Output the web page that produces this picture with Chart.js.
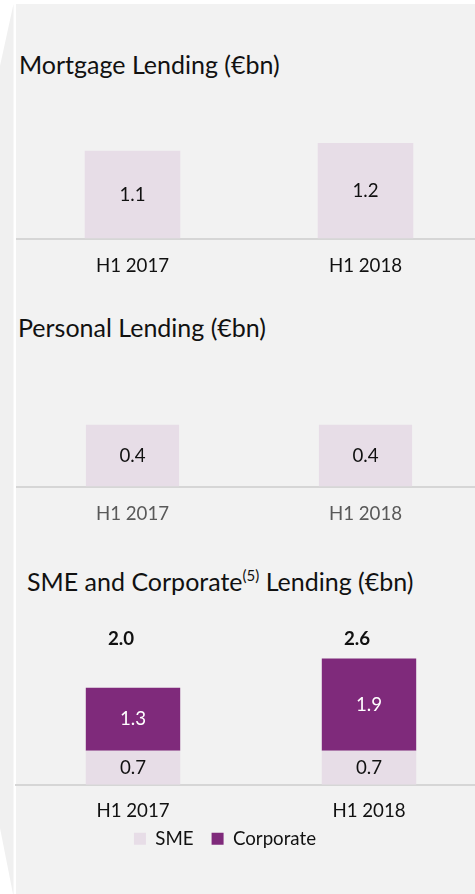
<!DOCTYPE html>
<html>
<head>
<meta charset="utf-8">
<script src="https://cdn.jsdelivr.net/npm/chart.js@4.4.1/dist/chart.umd.min.js"></script>
<style>
html,body{margin:0;padding:0;width:475px;height:894px;overflow:hidden;background:#ffffff;font-family:Lato,sans-serif;}
#wedge{position:absolute;left:0;top:0;width:14px;height:894px;background:#f0f0f0;
  clip-path:polygon(13.5px 4px,13.5px 894px,13px 894px,0px 828px,0px 66px);}
#panel{position:absolute;left:16px;top:4px;width:459px;height:890px;background:#f2f2f2;}
.title{position:absolute;font-size:25px;line-height:1.2;color:#111;white-space:nowrap;}
.title .sup{font-size:15px;position:relative;top:-10px;line-height:0;}
.cv{position:absolute;}
</style>
</head>
<body>
<div id="wedge"></div>
<div id="panel"></div>
<div class="title" id="t1" style="left:19px;top:49px;">Mortgage Lending (€bn)</div>
<div class="title" id="t2" style="left:18px;top:312px;">Personal Lending (€bn)</div>
<div class="title" id="t3" style="left:27px;top:566px;">SME and Corporate<span class="sup">(5)</span> Lending (€bn)</div>
<canvas class="cv" id="c1" width="466" height="182" style="left:16px;top:111px;"></canvas>
<canvas class="cv" id="c2" width="466" height="147" style="left:16px;top:394px;"></canvas>
<canvas class="cv" id="c3" width="472" height="274" style="left:15px;top:610px;"></canvas>
<script>
// ---- data ----
const categories = ['H1 2017', 'H1 2018'];
const mortgageValues = [1.1, 1.2];
const personalValues = [0.4, 0.4];
const smeValues = [0.7, 0.7];
const corporateValues = [1.3, 1.9];
const smeCorpTotals = [2.0, 2.6];
const seriesNames = ['SME', 'Corporate'];

// ---- styles ----
const SME_COLOR = '#e7dde7';
const CORP_COLOR = '#7f2a7b';
const AXIS_COLOR = '#d6d6d6';
const TEXT_COLOR = '#111111';
const GREY_TEXT = '#595959';
const LABEL_SIZE = 18.7;

const barLabels = {
  id: 'barLabels',
  afterDatasetsDraw(chart, args, opts) {
    const ctx = chart.ctx;
    ctx.save();
    ctx.textAlign = 'center';
    ctx.textBaseline = 'middle';
    ctx.font = LABEL_SIZE + 'px Lato';
    chart.data.datasets.forEach((ds, di) => {
      const meta = chart.getDatasetMeta(di);
      if (!chart.isDatasetVisible(di)) return;
      meta.data.forEach((bar, i) => {
        ctx.fillStyle = ds.labelColor || TEXT_COLOR;
        ctx.fillText(ds.data[i].toFixed(1), bar.x, (bar.y + bar.base) / 2);
      });
    });
    if (opts && opts.totals) {
      const meta = chart.getDatasetMeta(0);
      const yTop = chart.scales.y.getPixelForValue(Math.max(...opts.totals)) - 20;
      ctx.font = 'bold ' + LABEL_SIZE + 'px Lato';
      ctx.fillStyle = TEXT_COLOR;
      opts.totals.forEach((t, i) => {
        ctx.fillText(t.toFixed(1), meta.data[i].x + (opts.dx || 0), yTop);
      });
    }
    ctx.restore();
  }
};

const shiftLegend = {
  id: 'shiftLegend',
  afterLayout(chart, args, opts) {
    const l = chart.legend;
    if (!l) return;
    l.left += opts.dx || 0; l.right += opts.dx || 0;
    l.top += opts.dy || 0; l.bottom += opts.dy || 0;
  }
};

function xScale(color, pad) {
  return {
    type: 'category',
    offset: true,
    grid: { display: false, drawTicks: false },
    border: { display: true, color: AXIS_COLOR, width: 2 },
    ticks: { color: color, padding: pad, font: { size: LABEL_SIZE, family: 'Lato' } }
  };
}
function yScale(max, stacked) {
  return { display: false, min: 0, max: max, stacked: !!stacked, grid: { display: false } };
}

function build() {
  Chart.defaults.font.family = 'Lato';
  Chart.defaults.color = TEXT_COLOR;

  new Chart(document.getElementById('c1'), {
    type: 'bar',
    data: { labels: categories, datasets: [{ label: 'Mortgage', data: mortgageValues, backgroundColor: SME_COLOR,
      categoryPercentage: 1, barPercentage: 0.41 }] },
    options: {
      responsive: false, animation: false, devicePixelRatio: 1,
      layout: { padding: 0 },
      plugins: { legend: { display: false }, tooltip: { enabled: false } },
      scales: { x: xScale(TEXT_COLOR, 16), y: yScale(1.6) }
    },
    plugins: [barLabels]
  });

  new Chart(document.getElementById('c2'), {
    type: 'bar',
    data: { labels: categories, datasets: [{ label: 'Personal', data: personalValues, backgroundColor: SME_COLOR,
      categoryPercentage: 1, barPercentage: 0.40 }] },
    options: {
      responsive: false, animation: false, devicePixelRatio: 1,
      layout: { padding: 0 },
      plugins: { legend: { display: false }, tooltip: { enabled: false } },
      scales: { x: xScale(GREY_TEXT, 16), y: yScale(0.6) }
    },
    plugins: [barLabels]
  });

  new Chart(document.getElementById('c3'), {
    type: 'bar',
    data: { labels: categories, datasets: [
      { label: seriesNames[0], data: smeValues, backgroundColor: SME_COLOR, labelColor: TEXT_COLOR,
        categoryPercentage: 1, barPercentage: 0.40 },
      { label: seriesNames[1], data: corporateValues, backgroundColor: CORP_COLOR, labelColor: '#ffffff',
        categoryPercentage: 1, barPercentage: 0.40 }
    ] },
    options: {
      responsive: false, animation: false, devicePixelRatio: 1,
      layout: { padding: 0 },
      plugins: {
        legend: { display: true, position: 'bottom',
          labels: { boxWidth: 12, boxHeight: 12, padding: 18, color: TEXT_COLOR,
            font: { size: LABEL_SIZE, family: 'Lato' } } },
        tooltip: { enabled: false },
        barLabels: { totals: smeCorpTotals, dx: -12 },
        shiftLegend: { dx: -26, dy: -26 }
      },
      scales: { x: Object.assign(xScale(TEXT_COLOR, 15), { stacked: true }), y: yScale(3.6, true) }
    },
    plugins: [barLabels, shiftLegend]
  });
}

if (document.fonts && document.fonts.load) {
  Promise.all([document.fonts.load(LABEL_SIZE + 'px Lato'), document.fonts.load('bold ' + LABEL_SIZE + 'px Lato')])
    .then(build, build);
} else { build(); }
</script>
</body>
</html>
